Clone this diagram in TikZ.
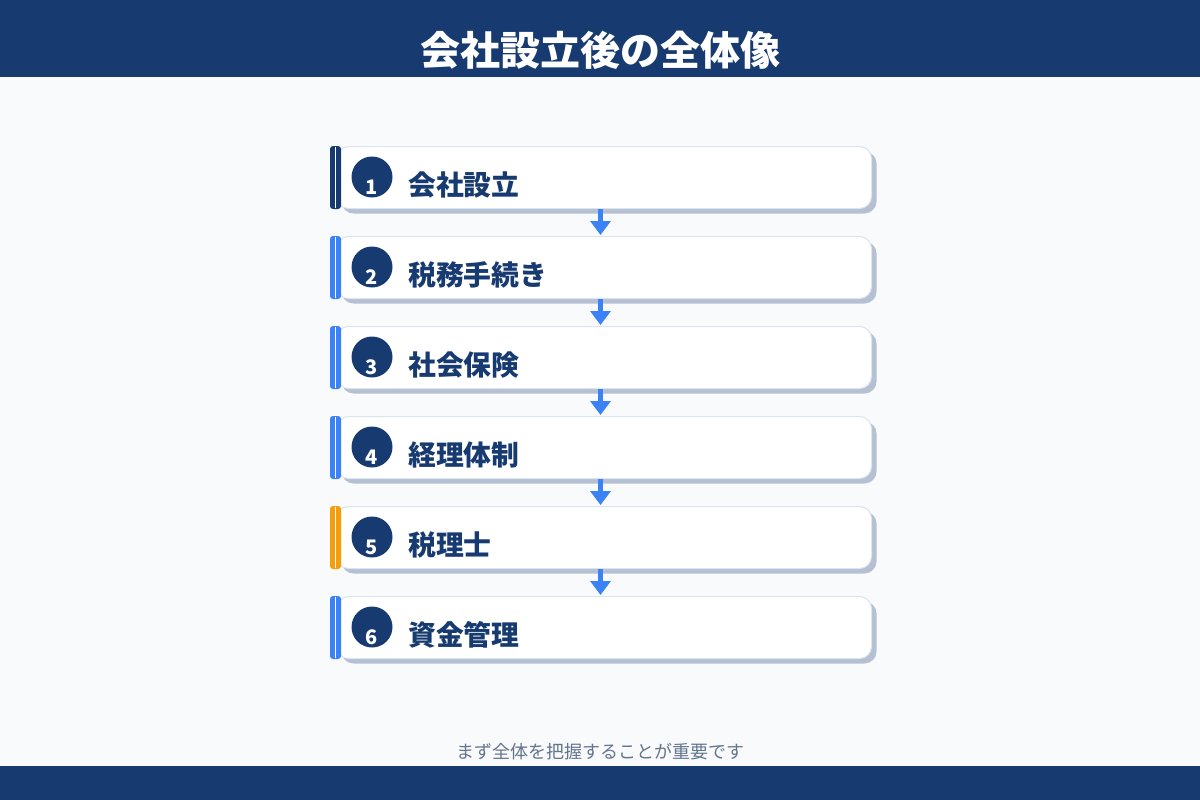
\documentclass[tikz,border=0pt]{standalone}
\usepackage{fontspec}
\setmainfont{Noto Sans CJK JP}
\usetikzlibrary{shadows,arrows.meta}
\definecolor{navy}{HTML}{173A70}
\definecolor{accent}{HTML}{3B82F6}
\definecolor{orangec}{HTML}{F59E0B}
\definecolor{bgc}{HTML}{F8FAFC}
\definecolor{shadowc}{HTML}{B5C0D3}
\definecolor{borderc}{HTML}{DCE4EF}
\definecolor{footc}{HTML}{64748B}
\tikzset{
  stepbox/.style={draw=borderc, line width=1pt, fill=white, rounded corners=12pt,
    minimum width=535pt, minimum height=62pt, inner sep=0pt, anchor=north west,
    drop shadow={shadow xshift=5pt, shadow yshift=-5pt, fill=shadowc, opacity=1}},
  numcircle/.style={circle, fill=navy, minimum size=41pt, inner sep=0pt},
  numtext/.style={text=white, font=\fontsize{20}{23}\selectfont\bfseries, inner sep=0pt},
  labeltext/.style={text=navy, font=\fontsize{27.8}{31}\selectfont\bfseries, inner sep=0pt, anchor=west},
  flowarrow/.style={draw=accent, line width=5pt, -{Triangle[width=20pt,length=14pt]}, shorten >=1pt}
}
\begin{document}
\begin{tikzpicture}[x=1pt,y=-1pt]
\useasboundingbox (0,0) rectangle (1200,800);
\fill[bgc] (0,0) rectangle (1200,800);
\fill[navy] (0,0) rectangle (1200,77);
\fill[navy] (0,766) rectangle (1200,800);
\node[text=white, font=\fontsize{40}{45}\selectfont\bfseries, inner sep=0pt] (title) at (600,50) {会社設立後の全体像};
\foreach \i/\t/\c in {1/会社設立/navy,2/税務手続き/accent,3/社会保険/accent,4/経理体制/accent,5/税理士/orangec,6/資金管理/accent} {
  \pgfmathsetmacro\y{146+90*(\i-1)}
  \pgfmathsetmacro\yb{\y+63}
  \pgfmathsetmacro\yc{\y+31}
  \pgfmathsetmacro\yn{\y+41}
  \pgfmathsetmacro\yt{\y+39}
  \node[stepbox] (box\i) at (336,\y) {};
  \fill[\c, rounded corners=3pt] (330,\y) rectangle (341,\yb);
  \draw[white, line width=1pt] (335.5,\y+1) -- (335.5,\yb-1);
  \node[numcircle] (c\i) at (372,\yc) {};
  \node[numtext] (n\i) at (372,\yn) {\i};
  \node[labeltext] (t\i) at (408,\yt) {\t};
}
\foreach \i [evaluate=\i as \j using int(\i+1)] in {1,...,5}
  \draw[flowarrow] ([xshift=-3.5pt]box\i.south) -- ([xshift=-3.5pt]box\j.north);
\node[text=footc, font=\fontsize{18}{21}\selectfont, inner sep=0pt] (foot) at (600,752) {まず全体を把握することが重要です};
\end{tikzpicture}
\end{document}
